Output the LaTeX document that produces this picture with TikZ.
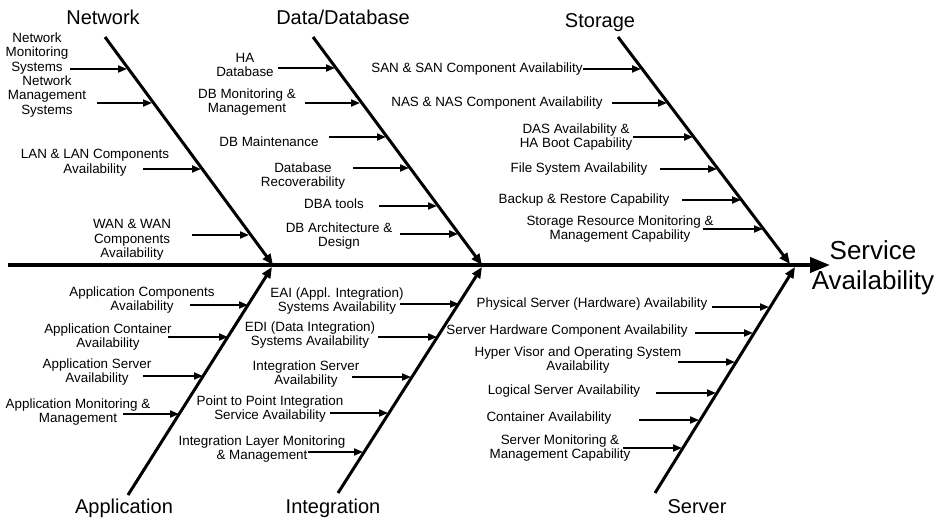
\documentclass[tikz,border=0pt]{standalone}
\usepackage{fontspec}
\setmainfont{Liberation Sans}
\usetikzlibrary{arrows.meta}
\begin{document}
\begin{tikzpicture}[x=1pt,y=-1pt,
  lbl/.style={align=center,inner sep=0pt,font=\fontsize{13.4}{14.6}\selectfont},
  ttl/.style={inner sep=0pt,font=\fontsize{20}{22}\selectfont},
  spine/.style={line width=4pt,-{Triangle[length=20pt,width=15pt]}},
  bone/.style={line width=3pt,-{Triangle[length=11pt,width=9pt]}},
  sub/.style={line width=2pt,-{Triangle[length=9pt,width=7pt]}}]
\useasboundingbox (0,0) rectangle (943,518);
% spine
\coordinate (sp0) at (8,265);
\node[inner sep=0pt,align=center,font=\fontsize{26}{30}\selectfont] (eff) at (873,268) {Service\\Availability};
\coordinate (sp1) at (830,265);
\draw[spine] (sp0) -- (sp1);
% bones
\coordinate (nA) at (105,37);  \coordinate (nB) at (273,265);
\coordinate (dA) at (313,37);  \coordinate (dB) at (482,265);
\coordinate (sA) at (618,37);  \coordinate (sB) at (790,264);
\coordinate (aA) at (128,495); \coordinate (aB) at (272,267);
\coordinate (iA) at (338,493); \coordinate (iB) at (482,267);
\coordinate (vA) at (655,493); \coordinate (vB) at (795,267);
\draw[bone] (nA) -- (nB);
\draw[bone] (dA) -- (dB);
\draw[bone] (sA) -- (sB);
\draw[bone] (aA) -- (aB);
\draw[bone] (iA) -- (iB);
\draw[bone] (vA) -- (vB);
% titles
\node[ttl] (tN) at (103,17) {Network};
\node[ttl] (tD) at (343,17) {Data/Database};
\node[ttl] (tS) at (600,23) {Storage};
\node[ttl] (tA) at (124,508) {Application};
\node[ttl] (tI) at (333,508) {Integration};
\node[ttl] (tV) at (697,507) {Server};
% Network
\node[lbl] (n1) at (37,53.5) {Network\\Monitoring\\Systems};
\node[lbl] (n2) at (47,96.5) {Network\\Management\\Systems};
\node[lbl] (n3) at (95,163) {LAN \& LAN Components\\Availability};
\node[lbl] (n4) at (132,240) {WAN \& WAN\\Components\\Availability};
\coordinate (n1s) at (70,69);  \coordinate (n1e) at (127,69);
\coordinate (n2s) at (97,103); \coordinate (n2e) at (152,103);
\coordinate (n3s) at (143,169);\coordinate (n3e) at (201,169);
\coordinate (n4s) at (192,235);\coordinate (n4e) at (249,235);
\foreach \k in {1,...,4} \draw[sub] (n\k s) -- (n\k e);
% Data/Database
\node[lbl] (d1) at (245,65) {HA\\Database};
\node[lbl] (d2) at (247,102) {DB Monitoring \&\\Management};
\node[lbl] (d3) at (269,142) {DB Maintenance};
\node[lbl] (d4) at (303,176) {Database\\Recoverability};
\node[lbl] (d5) at (334,204) {DBA tools};
\node[lbl] (d6) at (339,236) {DB Architecture \&\\Design};
\coordinate (d1s) at (278,68);  \coordinate (d1e) at (335,68);
\coordinate (d2s) at (305,103); \coordinate (d2e) at (360,103);
\coordinate (d3s) at (329,137); \coordinate (d3e) at (386,137);
\coordinate (d4s) at (353,168); \coordinate (d4e) at (409,168);
\coordinate (d5s) at (379,206); \coordinate (d5e) at (437,206);
\coordinate (d6s) at (400,234); \coordinate (d6e) at (458,234);
\foreach \k in {1,...,6} \draw[sub] (d\k s) -- (d\k e);
% Storage
\node[lbl] (s1) at (477,69) {SAN \& SAN Component Availability};
\node[lbl] (s2) at (497,103) {NAS \& NAS Component Availability};
\node[lbl] (s3) at (576,137) {DAS Availability \&\\HA Boot Capability};
\node[lbl] (s4) at (579,169) {File System Availability};
\node[lbl] (s5) at (584,200) {Backup \& Restore Capability};
\node[lbl] (s6) at (620,229) {Storage Resource Monitoring \&\\Management Capability};
\coordinate (s1s) at (583,69);  \coordinate (s1e) at (641,69);
\coordinate (s2s) at (612,103); \coordinate (s2e) at (667,103);
\coordinate (s3s) at (633,137); \coordinate (s3e) at (693,137);
\coordinate (s4s) at (660,169); \coordinate (s4e) at (717,169);
\coordinate (s5s) at (682,200); \coordinate (s5e) at (741,200);
\coordinate (s6s) at (703,229); \coordinate (s6e) at (763,229);
\foreach \k in {1,...,6} \draw[sub] (s\k s) -- (s\k e);
% Application
\node[lbl] (a1) at (142,300) {Application Components\\Availability};
\node[lbl] (a2) at (108,337) {Application Container\\Availability};
\node[lbl] (a3) at (97,372) {Application Server\\Availability};
\node[lbl] (a4) at (78,412) {Application Monitoring \&\\Management};
\coordinate (a1s) at (190,305); \coordinate (a1e) at (248,305);
\coordinate (a2s) at (168,337); \coordinate (a2e) at (228,337);
\coordinate (a3s) at (143,376); \coordinate (a3e) at (203,376);
\coordinate (a4s) at (123,414); \coordinate (a4e) at (179,414);
\foreach \k in {1,...,4} \draw[sub] (a\k s) -- (a\k e);
% Integration
\node[lbl] (i1) at (337,301) {EAI (Appl. Integration)\\Systems Availability};
\node[lbl] (i2) at (310,335) {EDI (Data Integration)\\Systems Availability};
\node[lbl] (i3) at (306,374) {Integration Server\\Availability};
\node[lbl] (i4) at (270,409) {Point to Point Integration\\Service Availability};
\node[lbl] (i5) at (262,449) {Integration Layer Monitoring\\\& Management};
\coordinate (i1s) at (400,304); \coordinate (i1e) at (459,304);
\coordinate (i2s) at (378,337); \coordinate (i2e) at (437,337);
\coordinate (i3s) at (352,377); \coordinate (i3e) at (411,377);
\coordinate (i4s) at (330,413); \coordinate (i4e) at (388,413);
\coordinate (i5s) at (308,452); \coordinate (i5e) at (363,452);
\foreach \k in {1,...,5} \draw[sub] (i\k s) -- (i\k e);
% Server
\node[lbl] (v1) at (592,304) {Physical Server (Hardware) Availability};
\node[lbl] (v2) at (567,331) {Server Hardware Component Availability};
\node[lbl] (v3) at (578,360) {Hyper Visor and Operating System\\Availability};
\node[lbl] (v4) at (564,391) {Logical Server Availability};
\node[lbl] (v5) at (549,418) {Container Availability};
\node[lbl] (v6) at (560,448) {Server Monitoring \&\\Management Capability};
\coordinate (v1s) at (712,307); \coordinate (v1e) at (769,307);
\coordinate (v2s) at (695,333); \coordinate (v2e) at (753,333);
\coordinate (v3s) at (678,362); \coordinate (v3e) at (735,362);
\coordinate (v4s) at (656,393); \coordinate (v4e) at (716,393);
\coordinate (v5s) at (639,420); \coordinate (v5e) at (699,420);
\coordinate (v6s) at (623,448); \coordinate (v6e) at (682,448);
\foreach \k in {1,...,6} \draw[sub] (v\k s) -- (v\k e);
\end{tikzpicture}
\end{document}
